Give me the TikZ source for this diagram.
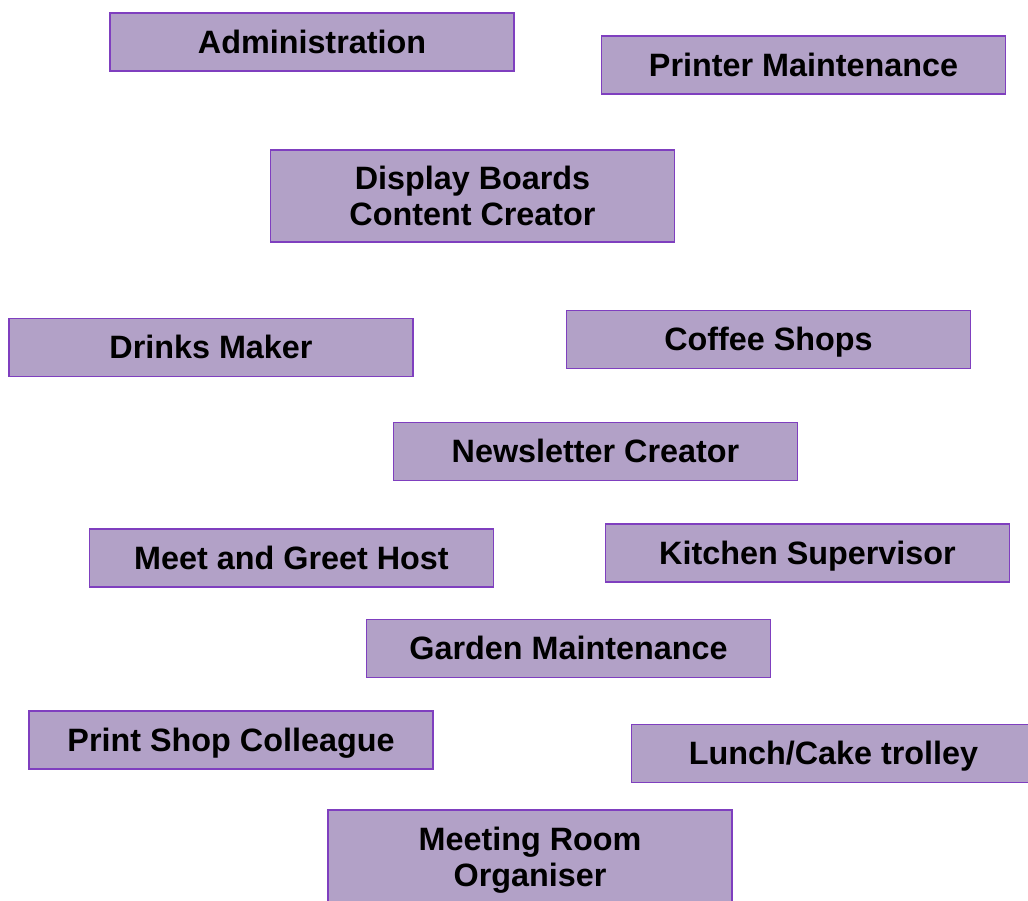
\documentclass[tikz,border=0pt]{standalone}
\usepackage{fontspec}
\setmainfont{Liberation Sans}
\usetikzlibrary{positioning}
\definecolor{RoleFill}{HTML}{B2A1C7}
\definecolor{RoleEdge}{HTML}{7F3FBF}

\begin{document}
\begin{tikzpicture}[x=0.025cm, y=-0.025cm,
    rolebase/.style={draw=RoleEdge, fill=RoleFill, line width=0.9pt,
        minimum width=10.1cm, inner sep=0pt, align=center,
        font=\fontsize{23}{26}\selectfont\bfseries, text=black},
    role/.style={rolebase, minimum height=1.45cm, text height=20.8pt, text depth=4.9pt},
    tallrole/.style={rolebase, minimum height=2.3cm}]
        % Page frame, the last boxes run past its edges
        \useasboundingbox (0,0) rectangle (1028,901);
        \clip (0,0) rectangle (1028,901);

        % Upper rows
        \node[role] (admin) at (312,42) {Administration};
        \node[role] (printer) at (803.5,65) {Printer Maintenance};
        \node[tallrole] (display) at (472.5,196) {Display Boards\\Content Creator};

        % Middle rows
        \node[role] (drinks) at (211,347.5) {Drinks Maker};
        \node[role] (coffee) at (768.5,339.5) {Coffee Shops};
        \node[role] (newsletter) at (595.5,451.5) {Newsletter Creator};
        \node[role] (greet) at (291.5,558) {Meet and Greet Host};
        \node[role] (kitchen) at (807.5,553) {Kitchen Supervisor};
        \node[role] (garden) at (568.5,648.5) {Garden Maintenance};

        % Lower rows
        \node[role] (printshop) at (231,740) {Print Shop Colleague};
        \node[role] (trolley) at (833.5,753.5) {Lunch/Cake trolley};
        \node[tallrole, minimum height=2.5cm] (meeting) at (530,860) {Meeting Room\\Organiser};
\end{tikzpicture}
\end{document}
